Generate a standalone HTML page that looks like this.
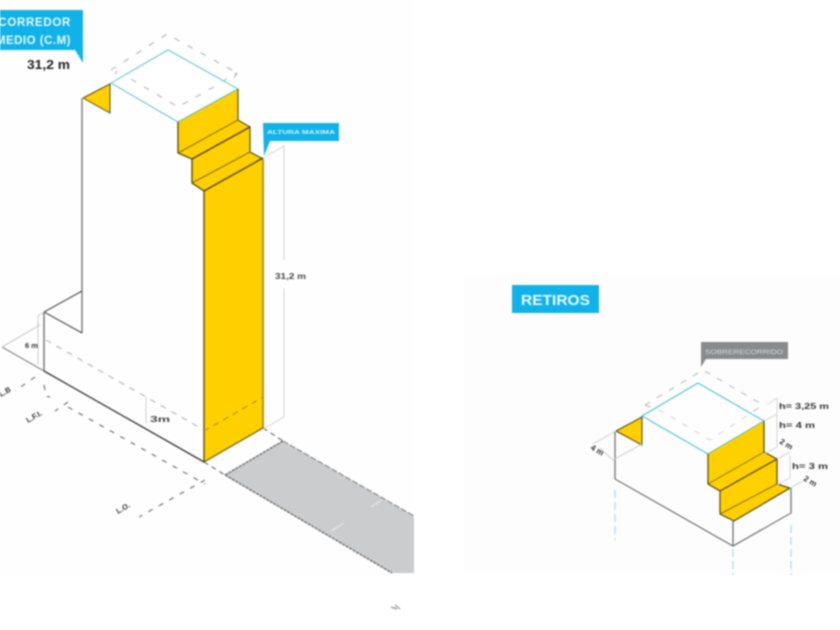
<!DOCTYPE html>
<html>
<head>
<meta charset="utf-8">
<style>
html,body{margin:0;padding:0;background:#fff;width:840px;height:630px;overflow:hidden}
svg{display:block;filter:blur(0.8px)}
text{font-family:"Liberation Sans",sans-serif}
</style>
</head>
<body>
<svg width="840" height="630" viewBox="0 0 840 630" xmlns="http://www.w3.org/2000/svg">
<rect x="0" y="0" width="412" height="575" fill="#fefefe"/>
<rect x="462" y="275" width="378" height="300" fill="#fdfdfd"/>

<!-- LEFT FIGURE -->
<polygon points="225,475 283,441 414,516 414,573 392,573" fill="#cbcccd"/>
<path d="M225,475L283,441M225,475L392,573" stroke="#555" stroke-width="1.2" stroke-dasharray="3 1" fill="none"/>
<path d="M283,441L414,516" stroke="#777" stroke-width="1" stroke-dasharray="6 2" fill="none"/>
<path d="M331,531L344,523M371,507L382,500" stroke="#eee" stroke-width="1" fill="none"/>
<path d="M204,462L225,475M263,428L283,441" stroke="#555" stroke-width="1" stroke-dasharray="5 4" fill="none"/>

<polygon points="0,10 83,10 83,63 75,50 0,50" fill="#10b2e8"/>
<text x="71" y="26" font-size="11.5" font-weight="bold" fill="#e8f8ff" text-anchor="end" letter-spacing=".7">CORREDOR</text>
<text x="71" y="44" font-size="11.5" font-weight="bold" fill="#e8f8ff" text-anchor="end" letter-spacing=".5">MEDIO (C.M)</text>
<text x="27" y="69" font-size="13" font-weight="bold" fill="#222" textLength="43" lengthAdjust="spacingAndGlyphs">31,2 m</text>

<path d="M111,70L167,34L237,73M131,79L178,107L237,73M117,71L115,74M237,73L234,78" stroke="#aaa" stroke-width="1" stroke-dasharray="6 9" fill="none"/>
<polygon points="111,83 168,50 238,89 178,122" fill="#fff" stroke="#4dbde0" stroke-width="1"/>
<path d="M131,79L178,107L219,84" stroke="#aaa" stroke-width="1" stroke-dasharray="6 9" fill="none"/>

<polygon points="83,98 110,84 110,113" fill="#ffd000"/>
<path d="M83,98L110,84L110,113L83,98" stroke="#5a4a10" stroke-width="1" fill="none"/>

<polygon points="178,122 238,89 238,120 250,127 250,152 263,159 263,428 204,462 204,191 192,183 192,158 178,153" fill="#ffd000"/>
<path d="M178,122L238,89" stroke="#6fc09a" stroke-width="1" fill="none"/>
<path d="M178,122L178,153L192,159L192,183L204,191L204,462" stroke="#4e4310" stroke-width="1.3" fill="none"/>
<path d="M238,89L238,120L250,127L250,152L263,159" stroke="#6a5a18" stroke-width="1.3" fill="none"/>
<path d="M263,159L263,428" stroke="#ac9530" stroke-width="2" fill="none"/>
<path d="M178,153L238,120" stroke="#84700c" stroke-width="1" fill="none"/>
<path d="M192,159L250,127M204,191L263,158" stroke="#4a3e10" stroke-width="1.3" fill="none"/>
<path d="M192,183L250,152" stroke="#84700c" stroke-width="1" fill="none"/>
<path d="M204,462L263,428" stroke="#5d5012" stroke-width="1.1" fill="none"/>
<path d="M204,431L263,397" stroke="#a08a10" stroke-width="1" stroke-dasharray="6 5" fill="none"/>

<path d="M82,98L82,333" stroke="#777" stroke-width="1.4" fill="none"/>
<path d="M82,333L44,312L82,291" stroke="#444" stroke-width="1" fill="none"/>
<path d="M44,312L44,371" stroke="#666" stroke-width="1.3" fill="none"/>
<path d="M44,371L204,462" stroke="#333" stroke-width="1.3" fill="none"/>
<path d="M2,347L44,371" stroke="#666" stroke-width="1" fill="none"/>
<path d="M2,347L40,325" stroke="#bbb" stroke-width="1" fill="none"/>
<path d="M38,316L38,365M38,316L44,312" stroke="#ccc" stroke-width="1" fill="none"/>
<path d="M46,340L204,430" stroke="#aaa" stroke-width="1" stroke-dasharray="6 6" fill="none"/>
<path d="M146,397L146,423" stroke="#ccc" stroke-width="1" fill="none"/>
<text x="150" y="422" font-size="8" font-weight="bold" fill="#444" textLength="20" lengthAdjust="spacingAndGlyphs">3m</text>
<text x="25" y="348" font-size="7.5" font-weight="bold" fill="#333">6 m</text>

<path d="M35,377L15,391M44,385L46,396L50,397M68,402L55,411M68,407L205,484" stroke="#555" stroke-width="1" stroke-dasharray="5 7" fill="none"/>
<path d="M205,480L139,517" stroke="#555" stroke-width="1" stroke-dasharray="5 7" fill="none"/>
<text transform="translate(1,397) rotate(-30)" font-size="7.5" font-weight="bold" fill="#333">L.B</text>
<text transform="translate(28,423) rotate(-30)" font-size="7.5" font-weight="bold" fill="#333">L.F.I.</text>
<text transform="translate(118,514) rotate(-30)" font-size="7.5" font-weight="bold" fill="#333">L.O.</text>

<path d="M263,158L284,146L284,260M284,288L284,417L263,429" stroke="#d2d2d2" stroke-width="1" fill="none"/>
<text x="275" y="279" font-size="8" font-weight="bold" fill="#444" textLength="31" lengthAdjust="spacingAndGlyphs">31,2 m</text>
<polygon points="263,123 339,123 339,141 270,141 264,156" fill="#10b2e8"/>
<text x="267" y="134" font-size="5.6" font-weight="bold" fill="#d8f2fb" textLength="68" lengthAdjust="spacingAndGlyphs">ALTURA MAXIMA</text>

<path d="M391,607L397,609M395,605L400,609" stroke="#777" stroke-width="1" fill="none"/>

<!-- RIGHT FIGURE -->
<rect x="512" y="285" width="87" height="28" fill="#10b2e8"/>
<text x="521" y="305" font-size="15" font-weight="bold" fill="#e8f8ff" textLength="69" lengthAdjust="spacingAndGlyphs">RETIROS</text>

<polygon points="701,342 788,342 788,359 706,359 701,367" fill="#888a8c"/>
<text x="705" y="354" font-size="6" fill="#dcdcdc" textLength="78" lengthAdjust="spacingAndGlyphs">SOBRERECORRIDO</text>

<path d="M645,405L703,370L763,405M645,405L663,412L710,440L763,405" stroke="#b5b5b5" stroke-width="1" stroke-dasharray="6 8" fill="none"/>
<polygon points="642,416 698,383 764,421 708,454" fill="#fff" fill-opacity=".4" stroke="#4dbde0" stroke-width="1.1"/>

<polygon points="616,431 642,417 642,445" fill="#ffd000"/>
<path d="M616,431L642,417L642,445L616,431" stroke="#4e4310" stroke-width="1" fill="none"/>

<polygon points="708,454 764,421 764,452 777,459 777,484 790,488 734,521 720,514 720,491 708,484" fill="#ffd000"/>
<path d="M708,454L764,421" stroke="#6fc09a" stroke-width="1" fill="none"/>
<path d="M708,454L708,484L720,491L720,514L734,521L790,488L777,484L777,459L764,452L764,421" stroke="#4e4310" stroke-width="1.2" fill="none"/>
<path d="M720,491L777,459" stroke="#4a3e10" stroke-width="1.2" fill="none"/>
<path d="M708,484L764,452M720,514L777,484" stroke="#84700c" stroke-width="1" fill="none"/>

<path d="M615,431L615,479M733,521L733,546M791,488L791,513" stroke="#777" stroke-width="1.4" fill="none"/>
<path d="M615,479L733,546L791,513" stroke="#555" stroke-width="1" fill="none"/>
<path d="M615,490L615,540M733,549L733,575M791,525L791,575" stroke="#a8d8ee" stroke-width="1.2" stroke-dasharray="8 4" fill="none"/>

<path d="M593,444L616,431M613,460L642,444M600,448L613,460" stroke="#ccc" stroke-width="1" fill="none"/>
<path d="M764,421L777,414L777,398L768,404M777,414L777,447L764,454M777,459L790,452M790,455L790,478L777,485M790,488L803,481" stroke="#d4d4d4" stroke-width="1" fill="none"/>
<text transform="translate(590,449) rotate(30)" font-size="8" font-weight="bold" fill="#333">4 m</text>
<text x="779" y="409" font-size="8" font-weight="bold" fill="#333" textLength="50" lengthAdjust="spacingAndGlyphs">h= 3,25 m</text>
<text x="779" y="428" font-size="8" font-weight="bold" fill="#333" textLength="36" lengthAdjust="spacingAndGlyphs">h= 4 m</text>
<text transform="translate(779,443) rotate(30)" font-size="8" font-weight="bold" fill="#333">2 m</text>
<text x="792" y="469" font-size="8" font-weight="bold" fill="#333" textLength="36" lengthAdjust="spacingAndGlyphs">h= 3 m</text>
<text transform="translate(803,480) rotate(30)" font-size="8" font-weight="bold" fill="#333">2 m</text>
</svg>
</body>
</html>
